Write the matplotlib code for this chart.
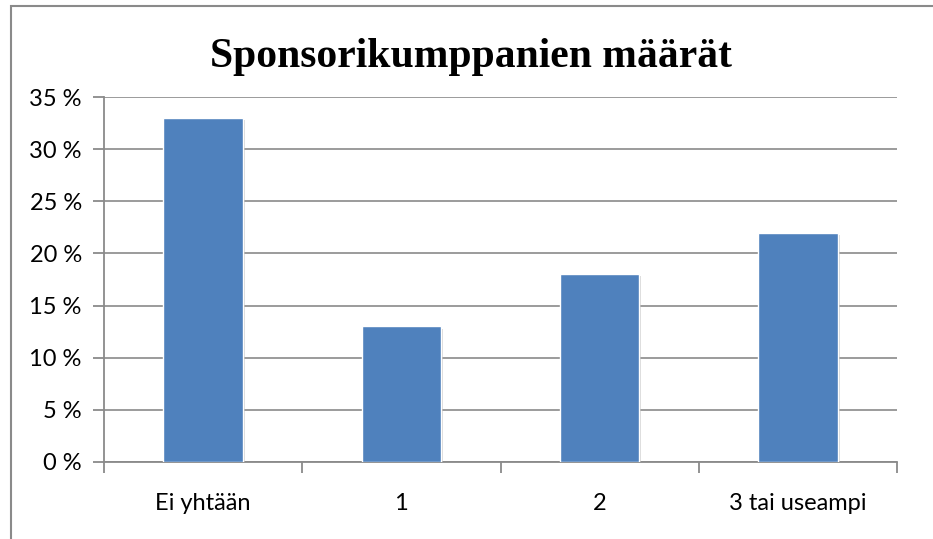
import matplotlib.pyplot as plt
import matplotlib.patheffects as pe
from matplotlib.patches import Rectangle
from matplotlib.ticker import FuncFormatter, FixedLocator

# data
categories = ['Ei yhtään', '1', '2', '3 tai useampi']
values = [33, 13, 18, 22]
title = 'Sponsorikumppanien määrät'

W, H = 933, 539
fig = plt.figure(figsize=(W / 100, H / 100), dpi=100)

# kehys (vain ylä- ja vasen reuna näkyvät)
fig.patches.append(Rectangle((11 / W, -0.1), 1.2, 1 - 6 / H + 0.1,
                             transform=fig.transFigure, fill=False,
                             edgecolor='#8a8a8a', linewidth=1.5))

ax = fig.add_axes([104 / W, 1 - 462 / H, (897 - 104) / W, (462 - 97) / H])

x = range(len(categories))
bars = ax.bar(x, values, width=0.4, color='#4F81BD', edgecolor='white',
              linewidth=1.0, zorder=3)
for b in bars:
    b.set_path_effects([pe.SimplePatchShadow(offset=(1.5, -1.5), shadow_rgbFace='#b0b0b0', alpha=0.5),
                        pe.Normal()])

ax.set_xlim(-0.5, len(categories) - 0.5)
ax.set_ylim(0, 35)
ax.set_yticks(range(0, 36, 5))
ax.yaxis.set_major_formatter(FuncFormatter(lambda v, p: f'{int(v)} %'))
ax.grid(axis='y', color='#8a8a8a', linewidth=1.2, zorder=0)

ax.set_xticks(list(x))
ax.set_xticklabels(categories)
ax.xaxis.set_minor_locator(FixedLocator([i - 0.5 for i in range(len(categories) + 1)]))
ax.tick_params(axis='x', which='major', length=0, pad=22)
ax.tick_params(axis='x', which='minor', length=8, width=1.3, color='#8a8a8a')
ax.tick_params(axis='y', length=8, width=1.3, color='#8a8a8a', pad=8)

for lab in ax.get_xticklabels() + ax.get_yticklabels():
    lab.set_fontfamily('Lato')
    lab.set_fontsize(17)

for s in ['top', 'right']:
    ax.spines[s].set_visible(False)
for s in ['left', 'bottom']:
    ax.spines[s].set_color('#8a8a8a')
    ax.spines[s].set_linewidth(1.3)

fig.text(471 / W, 1 - 67 / H, title, ha='center', va='baseline',
         fontfamily='Liberation Serif', fontweight='bold', fontsize=30)

fig.savefig('out.png', dpi=100)
